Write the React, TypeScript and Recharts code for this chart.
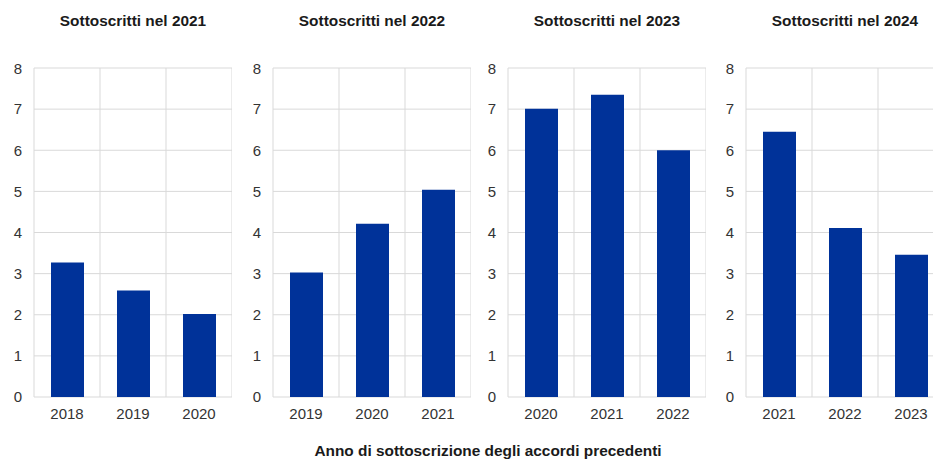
import React from 'react';
import { BarChart, Bar, XAxis, YAxis, CartesianGrid } from 'recharts';

const panelTitles = ['Sottoscritti nel 2021', 'Sottoscritti nel 2022', 'Sottoscritti nel 2023', 'Sottoscritti nel 2024'];
const years2021 = ['2018', '2019', '2020'];
const years2022 = ['2019', '2020', '2021'];
const years2023 = ['2020', '2021', '2022'];
const years2024 = ['2021', '2022', '2023'];
const values2021 = [3.27, 2.59, 2.02];
const values2022 = [3.03, 4.21, 5.04];
const values2023 = [7.01, 7.35, 6.0];
const values2024 = [6.45, 4.11, 3.46];
const yTicks = [0, 1, 2, 3, 4, 5, 6, 7, 8];
const axisTitle = 'Anno di sottoscrizione degli accordi precedenti';

const FONT = '"Liberation Sans", Arial, sans-serif';
const BLUE = '#003299';
const GRID = '#d9d9d9';

const panelLefts = [0, 239, 474, 712];
const Y_W = 34;
const PLOT_W = 198;

const buildRows = (years: string[], values: number[]) =>
  years.map((year, i) => ({ year, value: values[i] }));

const panels = [
  buildRows(years2021, values2021),
  buildRows(years2022, values2022),
  buildRows(years2023, values2023),
  buildRows(years2024, values2024),
];

// grid lines on category borders instead of category centres
const boundaryLines = ({ offset }: any) => {
  const n = 3;
  const step = offset.width / n;
  return Array.from({ length: n + 1 }, (_, i) => offset.left + i * step);
};

const Panel = ({ data, left, title }: { data: any[]; left: number; title: string }) => (
  <>
    <div
      style={{
        position: 'absolute',
        left: left + Y_W,
        width: PLOT_W,
        top: 12,
        textAlign: 'center',
        fontFamily: FONT,
        fontWeight: 'bold',
        fontSize: 15.4,
        color: '#1a1a1a',
        whiteSpace: 'nowrap',
      }}
    >
      {title}
    </div>
    <div style={{ position: 'absolute', left, top: 60 }}>
      <BarChart width={Y_W + PLOT_W} height={367} data={data} margin={{ top: 8, right: 0, bottom: 0, left: 0 }}>
        <CartesianGrid stroke={GRID} verticalCoordinatesGenerator={boundaryLines} />
        <XAxis
          dataKey="year"
          height={30}
          axisLine={false}
          tickLine={false}
          tickMargin={5}
          tick={{ fill: '#333', fontSize: 15, fontFamily: FONT }}
        />
        <YAxis
          width={Y_W}
          domain={[0, 8]}
          ticks={yTicks}
          axisLine={false}
          tickLine={false}
          tickMargin={6}
          tick={{ fill: '#333', fontSize: 15, fontFamily: FONT }}
        />
        <Bar dataKey="value" fill={BLUE} barSize={33} isAnimationActive={false} />
      </BarChart>
    </div>
  </>
);

export default function App() {
  return (
    <div
      style={{
        position: 'absolute',
        left: 0,
        top: 0,
        width: 933,
        height: 461,
        overflow: 'hidden',
        background: '#fff',
      }}
    >
      {panels.map((data, i) => (
        <Panel key={i} data={data} left={panelLefts[i]} title={panelTitles[i]} />
      ))}
      <div
        style={{
          position: 'absolute',
          left: 0,
          width: 976,
          top: 442,
          textAlign: 'center',
          fontFamily: FONT,
          fontWeight: 'bold',
          fontSize: 15.4,
          color: '#1a1a1a',
        }}
      >
        {axisTitle}
      </div>
    </div>
  );
}
